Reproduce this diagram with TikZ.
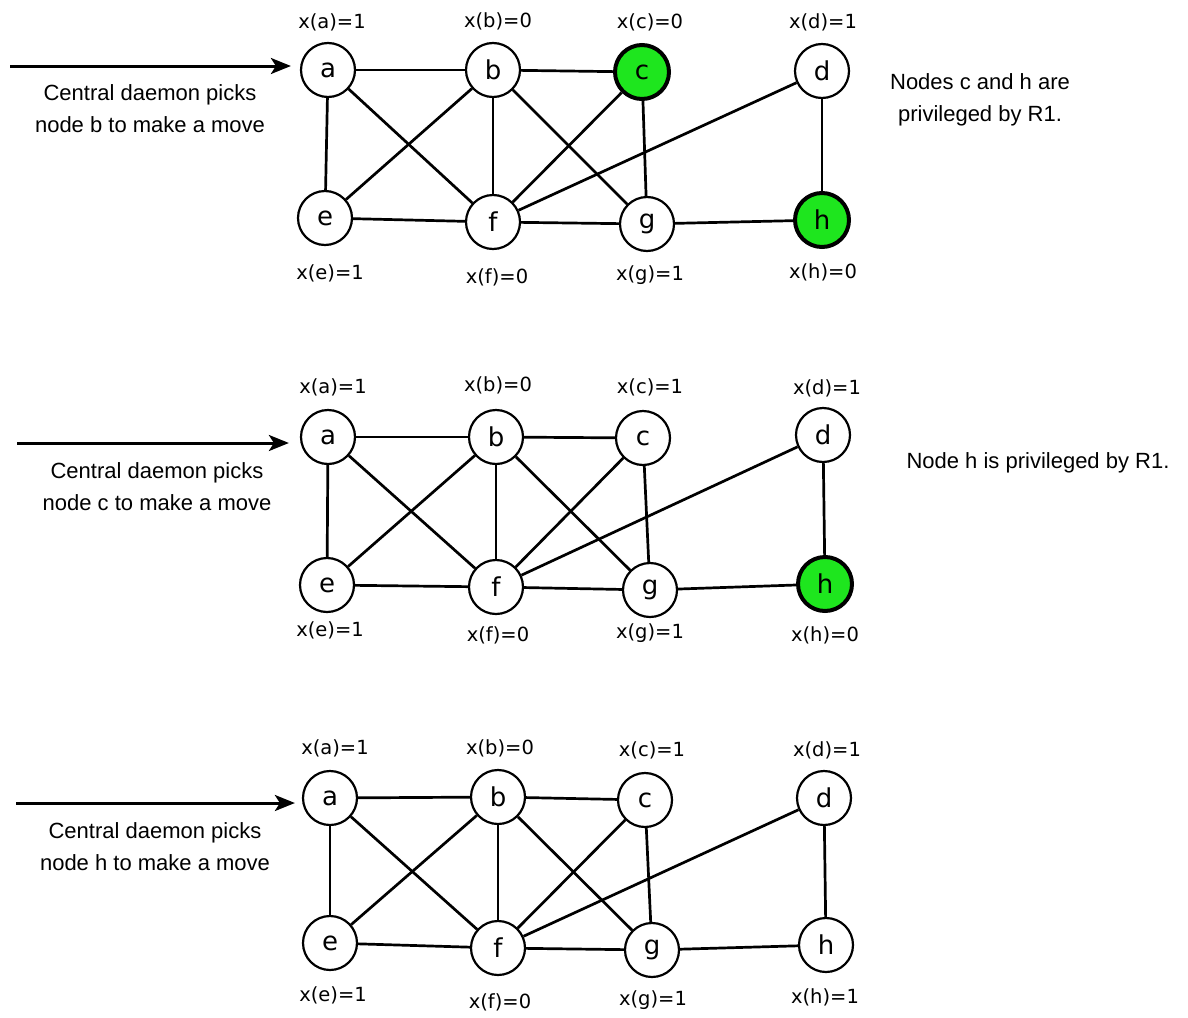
\documentclass[tikz,border=0pt]{standalone}
\usepackage{fontspec}
\setmainfont{Liberation Sans}
\newfontfamily\graphfont{DejaVu Sans}
\usetikzlibrary{arrows.meta}
\definecolor{privgreen}{RGB}{30,230,30}
\begin{document}
\begin{tikzpicture}[x=1pt,y=-1pt,
  vertex/.style={circle, draw, fill=white, line width=2.2pt, minimum size=54pt,
    inner sep=0pt, font=\graphfont\fontsize{26}{26}\selectfont},
  priv/.style={vertex, fill=privgreen, line width=4pt},
  val/.style={font=\graphfont\fontsize{19.5}{19.5}\selectfont, inner sep=0pt},
  edge/.style={line width=2.7pt},
  pick/.style={line width=3pt, -{Stealth[length=20pt,width=16pt,inset=5pt]}},
  note/.style={font=\fontsize{22}{32}\selectfont, align=center, inner sep=0pt}]
\useasboundingbox (0,0) rectangle (1188,1017);

% ---------- state 1 ----------
\node[vertex] (a1) at (328,70)  {a};
\node[vertex] (b1) at (493,70)  {b};
\node[priv]   (c1) at (642,72)  {c};
\node[vertex] (d1) at (822,71)  {d};
\node[vertex] (e1) at (325,218) {e};
\node[vertex] (f1) at (493,222) {f};
\node[vertex] (g1) at (647,224) {g};
\node[priv]   (h1) at (822,220) {h};
\node[val] (la1) at (332,22)  {x(a)=1};
\node[val] (lb1) at (498,21)  {x(b)=0};
\node[val] (lc1) at (650,22)  {x(c)=0};
\node[val] (ld1) at (823,22)  {x(d)=1};
\node[val] (le1) at (330,273) {x(e)=1};
\node[val] (lf1) at (497,277) {x(f)=0};
\node[val] (lg1) at (650,275) {x(g)=1};
\node[val] (lh1) at (823,272) {x(h)=0};
\coordinate (s1) at (10,66);
\draw[pick, shorten >=9pt] (s1) -- (s1 -| a1.west);
\node[note] (n1) at (150,109) {Central daemon picks\\node b to make a move};
\node[note] (r1) at (980,100) {Nodes c and h are\\privileged by R1.};

% ---------- state 2 ----------
\node[vertex] (a2) at (328,437) {a};
\node[vertex] (b2) at (496,437) {b};
\node[vertex] (c2) at (643,438) {c};
\node[vertex] (d2) at (823,435) {d};
\node[vertex] (e2) at (327,585) {e};
\node[vertex] (f2) at (496,587) {f};
\node[vertex] (g2) at (650,590) {g};
\node[priv]   (h2) at (825,584) {h};
\node[val] (la2) at (333,387) {x(a)=1};
\node[val] (lb2) at (498,385) {x(b)=0};
\node[val] (lc2) at (650,387) {x(c)=1};
\node[val] (ld2) at (827,388) {x(d)=1};
\node[val] (le2) at (330,630) {x(e)=1};
\node[val] (lf2) at (498,635) {x(f)=0};
\node[val] (lg2) at (650,633) {x(g)=1};
\node[val] (lh2) at (825,635) {x(h)=0};
\coordinate (s2) at (17,443);
\draw[pick, shorten >=11pt] (s2) -- (s2 -| a2.west);
\node[note] (n2) at (157,487) {Central daemon picks\\node c to make a move};
\node[note] (r2) at (1038,463) {Node h is privileged by R1.};

% ---------- state 3 ----------
\node[vertex] (a3) at (330,798) {a};
\node[vertex] (b3) at (498,797) {b};
\node[vertex] (c3) at (645,800) {c};
\node[vertex] (d3) at (824,798) {d};
\node[vertex] (e3) at (330,943) {e};
\node[vertex] (f3) at (498,948) {f};
\node[vertex] (g3) at (652,950) {g};
\node[vertex] (h3) at (826,945) {h};
\node[val] (la3) at (335,748)  {x(a)=1};
\node[val] (lb3) at (500,748)  {x(b)=0};
\node[val] (lc3) at (652,750)  {x(c)=1};
\node[val] (ld3) at (827,750)  {x(d)=1};
\node[val] (le3) at (333,995)  {x(e)=1};
\node[val] (lf3) at (500,1002) {x(f)=0};
\node[val] (lg3) at (653,1000) {x(g)=1};
\node[val] (lh3) at (825,997)  {x(h)=1};
\coordinate (s3) at (16,803);
\draw[pick, shorten >=7pt] (s3) -- (s3 -| a3.west);
\node[note] (n3) at (155,847) {Central daemon picks\\node h to make a move};

% ---------- edges of the graph, same in every state ----------
\foreach \p in {1,2,3}
  \foreach \u/\v in {a/b,a/e,a/f,b/c,b/e,b/f,b/g,c/f,c/g,d/f,d/h,e/f,f/g,g/h}
    \draw[edge] (\u\p) -- (\v\p);
\end{tikzpicture}
\end{document}
